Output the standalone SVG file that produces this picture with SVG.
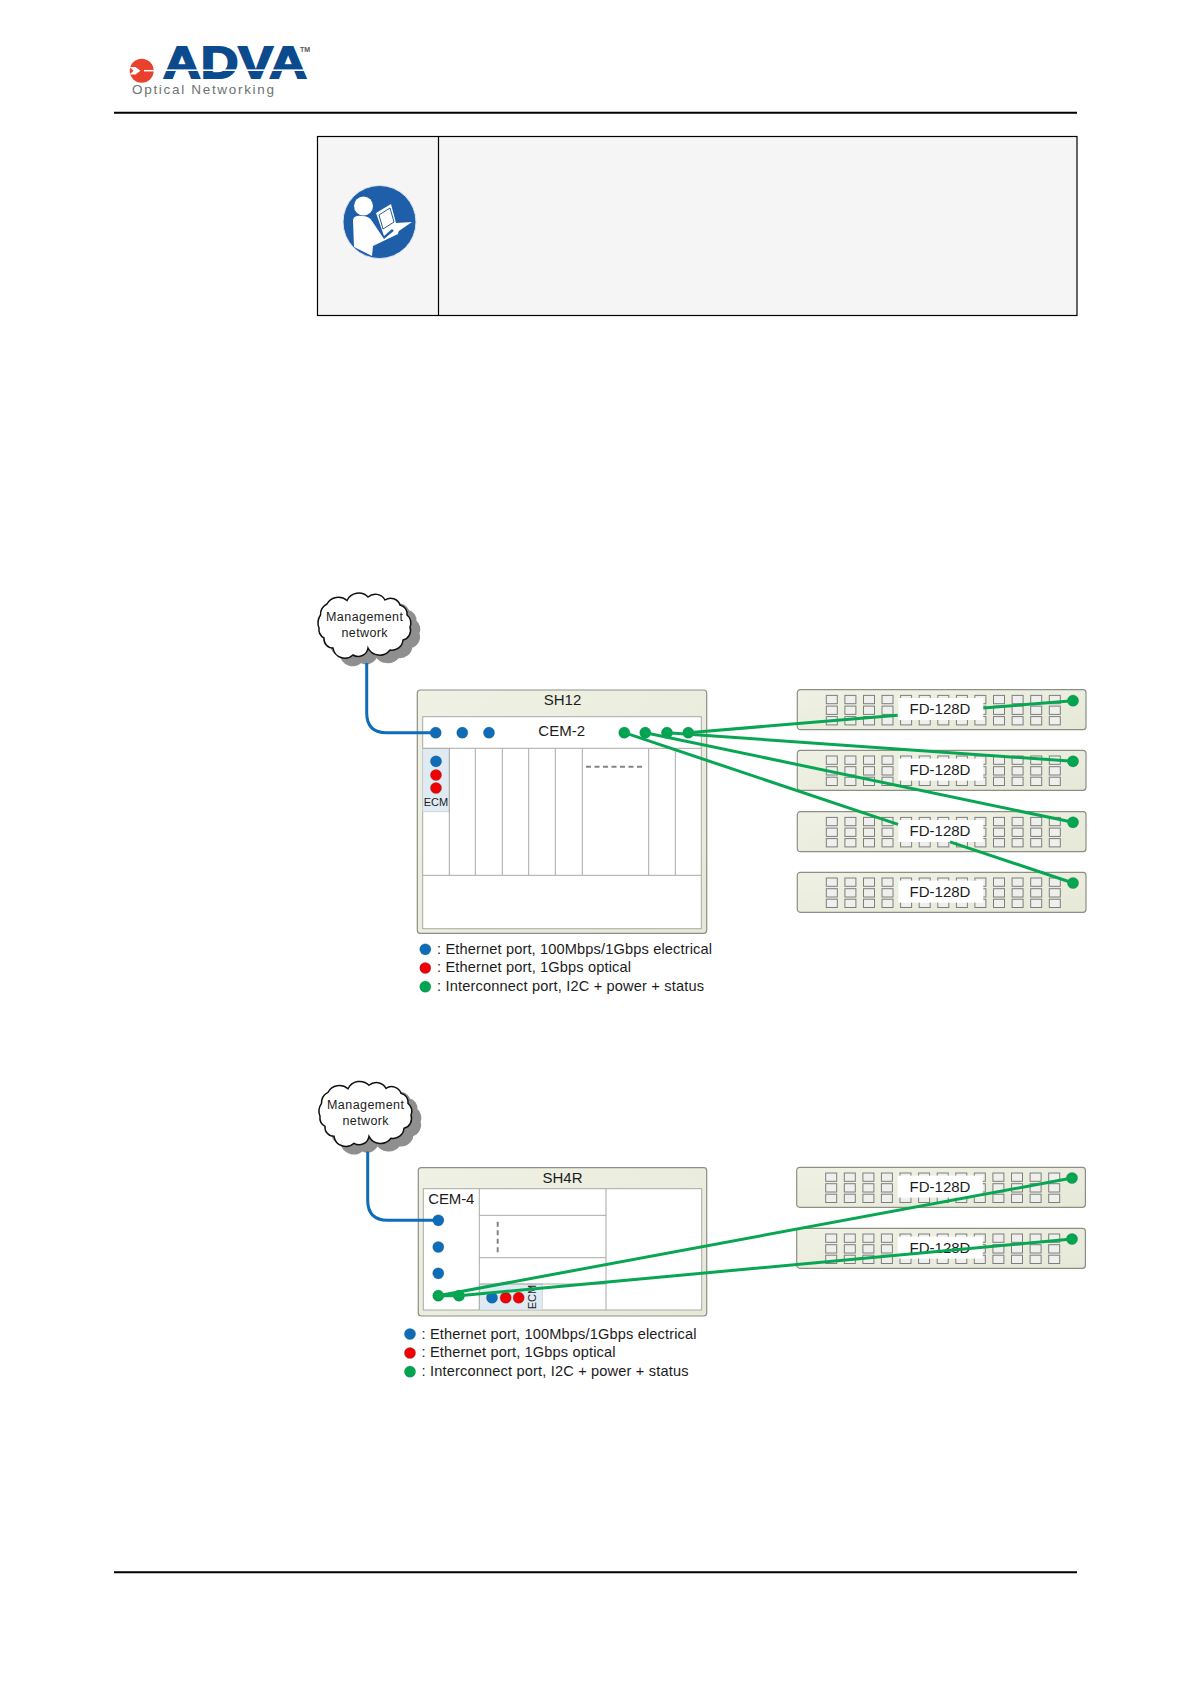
<svg xmlns="http://www.w3.org/2000/svg" xmlns:xlink="http://www.w3.org/1999/xlink" width="1191" height="1684" viewBox="0 0 1191 1684">
<style>
text{font-family:"Liberation Sans",Arial,sans-serif;fill:#1c1c1c}
.t15{font-size:15px;text-anchor:middle}
.leg{font-size:14.6px}
.cl{font-size:12.5px;text-anchor:middle}
.ecm{font-size:11px;text-anchor:middle}
.chassis{fill:url(#cg);stroke:#8d8f85;stroke-width:1.2}
.inner{fill:#fff;stroke:#a9a9a5;stroke-width:1}
.sep{stroke:#a8a8a4;stroke-width:1;fill:none}
.dash{stroke:#858585;stroke-width:2;stroke-dasharray:5 3.5;fill:none}
.ecmbox{fill:#dfeaf2;stroke:#c5d0d6;stroke-width:.8}
.b{fill:#0f6cb8}.r{fill:#f00000}.g{fill:#00a550}
.blue{stroke:#0f6cb8;stroke-width:3;fill:none}
.green{stroke:#08a653;stroke-width:3;fill:none}
.port{fill:#eff0ee;stroke:#7e7e7c;stroke-width:1}
.rule{stroke:#000;stroke-width:2}
circle.b,circle.r,circle.g{stroke-width:.6;stroke:#2a5a50;stroke-opacity:.45}
</style>
<defs>
<linearGradient id="cg" x1="0" y1="0" x2="1" y2="1"><stop offset="0" stop-color="#eff1e4"/><stop offset="1" stop-color="#e6e9d8"/></linearGradient>
<path id="cloudshape" d="M320.5 615A12 12 0 0 1 327 604A13 13 0 0 1 347 600.5A13 13 0 0 1 368 597A11 11 0 0 1 385 600A10 10 0 0 1 400 605A9 9 0 0 1 407 615A10 10 0 0 1 410 627A10 10 0 0 1 403 640A11 11 0 0 1 390 650A13 13 0 0 1 368 648A10 10 0 0 1 353 655A12 12 0 0 1 333 648A9 9 0 0 1 324 638A10 10 0 0 1 319 628A14 14 0 0 1 320.5 615Z"/>
<g id="cloud">
<use xlink:href="#cloudshape" href="#cloudshape" x="8" y="6.5" fill="#8f8f8f" stroke="#8f8f8f" stroke-width="3"/>
<use xlink:href="#cloudshape" href="#cloudshape" fill="#fff" stroke="#111" stroke-width="1.5"/>
</g>
<g id="pcol">
<rect class="port" x="0" y="0" width="11" height="8.3"/>
<rect class="port" x="0" y="10.7" width="11" height="8.3"/>
<rect class="port" x="0" y="21.2" width="11" height="8.3"/>
</g>
<g id="rack">
<rect class="chassis" x="0" y="0" width="288.7" height="40" rx="3"/>
<use xlink:href="#pcol" href="#pcol" x="29" y="5.7"/>
<use xlink:href="#pcol" href="#pcol" x="47.6" y="5.7"/>
<use xlink:href="#pcol" href="#pcol" x="66.2" y="5.7"/>
<use xlink:href="#pcol" href="#pcol" x="84.7" y="5.7"/>
<use xlink:href="#pcol" href="#pcol" x="103.3" y="5.7"/>
<use xlink:href="#pcol" href="#pcol" x="121.9" y="5.7"/>
<use xlink:href="#pcol" href="#pcol" x="140.5" y="5.7"/>
<use xlink:href="#pcol" href="#pcol" x="159.1" y="5.7"/>
<use xlink:href="#pcol" href="#pcol" x="177.6" y="5.7"/>
<use xlink:href="#pcol" href="#pcol" x="196.2" y="5.7"/>
<use xlink:href="#pcol" href="#pcol" x="214.8" y="5.7"/>
<use xlink:href="#pcol" href="#pcol" x="233.4" y="5.7"/>
<use xlink:href="#pcol" href="#pcol" x="252" y="5.7"/>
<rect x="101" y="8.3" width="85" height="22" fill="#fff"/>
</g>
</defs>
<rect width="1191" height="1684" fill="#fff"/>

<g id="logo">
<circle cx="141.7" cy="70.7" r="12" fill="#e8412e"/>
<path d="M129.5 67h6l5 3.700l-5 3.700h-6l4-3.700z" fill="#fff"/>
<path d="M144 70.700h10" stroke="#fff" stroke-width="1.500"/>
<text x="163" y="78" font-size="43.500" font-weight="700" textLength="144" lengthAdjust="spacingAndGlyphs" stroke="#0c4a8e" stroke-width="1.800" style="fill:#0c4a8e">ADVA</text>
<rect x="160" y="69.400" width="150" height="1.600" fill="#fff"/>
<text x="300" y="52" font-size="7" font-weight="700" style="fill:#555">TM</text>
<text x="132" y="94" font-size="13.500" textLength="142" style="fill:#6d7273">Optical Networking</text>
</g>
<line id="header-rule" class="rule" x1="114" y1="112.7" x2="1077" y2="112.7"/>

<g id="note">
<rect x="317.5" y="136.5" width="759.5" height="179" fill="#f5f5f5" stroke="#000" stroke-width="1.2"/>
<line x1="438.5" y1="136.5" x2="438.5" y2="315.5" stroke="#000" stroke-width="1.2"/>
<circle cx="379.5" cy="222" r="36.5" fill="#1f5ea8" stroke="#dbe4ee" stroke-width="1"/>
<circle cx="363.5" cy="206" r="9.5" fill="#fff"/>
<path d="M353 220Q354 215 362 216Q369 216 372 221L384 239L396 229Q400 227 398 234L373 246L372 256L354 247Z" fill="#fff"/>
<path d="M376 213L391 204L396 223L412 222L396 233L392 229L384 236Z" fill="#fff"/>
<path d="M379 215L390 208L394 222L383 229Z" fill="none" stroke="#1f5ea8" stroke-width="1"/>
</g>

<g id="cloud-1">
<use xlink:href="#cloud" href="#cloud"/>
<text class="cl" x="364.5" y="621" textLength="77">Management</text>
<text class="cl" x="364.5" y="636.5" textLength="46">network</text>
</g>

<g id="sh12">
<rect class="chassis" x="417.3" y="690" width="289.4" height="243.3" rx="3"/>
<rect class="inner" x="422.7" y="716.7" width="278.6" height="212"/>
<rect class="ecmbox" x="422.7" y="748.3" width="26.6" height="63.4"/>
<path class="sep" d="M422.7 748.3H701.3M422.7 875.3H701.3M449.3 748.3V875.3M475.3 748.3V875.3M502.3 748.3V875.3M528.7 748.3V875.3M555.3 748.3V875.3M582.3 748.3V875.3M648.7 748.3V875.3M675.3 748.3V875.3"/>
<line class="dash" x1="586" y1="766.7" x2="645" y2="766.7"/>
<text class="t15" x="562.5" y="705">SH12</text>
<text class="t15" x="561.7" y="736">CEM-2</text>
<text class="ecm" x="436" y="805.5">ECM</text>
<circle class="b" cx="435.7" cy="732.7" r="5.6"/><circle class="b" cx="462.3" cy="732.7" r="5.6"/><circle class="b" cx="489" cy="732.7" r="5.6"/>
<circle class="b" cx="436" cy="761.3" r="5.6"/><circle class="r" cx="436" cy="775" r="5.6"/><circle class="r" cx="436" cy="788" r="5.6"/>
<circle class="g" cx="624.3" cy="732.7" r="5.6"/><circle class="g" cx="645.3" cy="732.7" r="5.6"/><circle class="g" cx="667" cy="732.7" r="5.6"/><circle class="g" cx="688.3" cy="732.7" r="5.6"/>
</g>

<g id="legend-1">
<circle class="b" cx="425.3" cy="949.3" r="5.6"/><circle class="r" cx="425.3" cy="968" r="5.6"/><circle class="g" cx="425.3" cy="986.7" r="5.6"/>
<text class="leg" x="437" y="954" textLength="275">:  Ethernet port, 100Mbps/1Gbps electrical</text>
<text class="leg" x="437" y="972.3" textLength="194">:  Ethernet port, 1Gbps optical</text>
<text class="leg" x="437" y="991" textLength="267">:  Interconnect port, I2C + power + status</text>
</g>

<g id="fd-1"><use xlink:href="#rack" href="#rack" x="797.3" y="689.7"/><text class="t15" x="940" y="714">FD-128D</text><circle class="g" cx="1073" cy="700.7" r="5.6"/></g>
<g id="fd-2"><use xlink:href="#rack" href="#rack" x="797.3" y="750.3"/><text class="t15" x="940" y="775">FD-128D</text><circle class="g" cx="1073" cy="761.3" r="5.6"/></g>
<g id="fd-3"><use xlink:href="#rack" href="#rack" x="797.3" y="811.7"/><text class="t15" x="940" y="836">FD-128D</text><circle class="g" cx="1073" cy="822.3" r="5.6"/></g>
<g id="fd-4"><use xlink:href="#rack" href="#rack" x="797.3" y="872.3"/><text class="t15" x="940" y="897">FD-128D</text><circle class="g" cx="1073" cy="883" r="5.6"/></g>

<g id="cloud-2">
<use xlink:href="#cloud" href="#cloud" x="1" y="488.3"/>
<text class="cl" x="365.5" y="1109" textLength="77">Management</text>
<text class="cl" x="365.5" y="1125" textLength="46">network</text>
</g>

<g id="sh4r">
<rect class="chassis" x="418.3" y="1167.7" width="288.4" height="148.3" rx="3"/>
<rect class="inner" x="423.3" y="1188.7" width="278.4" height="121.3"/>
<rect class="ecmbox" x="479.3" y="1284" width="63" height="26"/>
<path class="sep" d="M479.3 1188.7V1310M606 1188.7V1310M479.3 1215.3H606M479.3 1257.7H606M479.3 1284H606"/>
<line class="dash" x1="497.7" y1="1221.7" x2="497.7" y2="1254"/>
<text class="t15" x="562.5" y="1182.7">SH4R</text>
<text class="t15" x="428.3" y="1204" style="text-anchor:start" textLength="46">CEM-4</text>
<text class="ecm" transform="translate(536 1297) rotate(-90)">ECM</text>
<circle class="b" cx="438.3" cy="1220.3" r="5.6"/><circle class="b" cx="438.3" cy="1247" r="5.6"/><circle class="b" cx="438.3" cy="1273.3" r="5.6"/>
<circle class="b" cx="492" cy="1297.7" r="5.6"/><circle class="r" cx="505.7" cy="1297.7" r="5.6"/><circle class="r" cx="518.7" cy="1297.7" r="5.6"/>
<circle class="g" cx="438.3" cy="1295.7" r="5.6"/><circle class="g" cx="459" cy="1295.7" r="5.6"/>
</g>

<g id="legend-2">
<circle class="b" cx="410" cy="1334" r="5.6"/><circle class="r" cx="410" cy="1353" r="5.6"/><circle class="g" cx="410" cy="1371.7" r="5.6"/>
<text class="leg" x="421.5" y="1338.7" textLength="275">:  Ethernet port, 100Mbps/1Gbps electrical</text>
<text class="leg" x="421.5" y="1357.3" textLength="194">:  Ethernet port, 1Gbps optical</text>
<text class="leg" x="421.5" y="1376" textLength="267">:  Interconnect port, I2C + power + status</text>
</g>

<g id="fd-5"><use xlink:href="#rack" href="#rack" x="796.7" y="1167.3"/><text class="t15" x="940" y="1191.7">FD-128D</text><circle class="g" cx="1072" cy="1178" r="5.6"/></g>
<g id="fd-6"><use xlink:href="#rack" href="#rack" x="796.7" y="1228.3"/><text class="t15" x="940" y="1252.7">FD-128D</text><circle class="g" cx="1072" cy="1239" r="5.6"/></g>

<g id="connectors">
<path class="blue" d="M366.7 663V712.7Q366.7 732.7 386.7 732.7H435.7"/>
<path class="blue" d="M367.7 1151.500V1200.300Q367.700 1220.300 387.700 1220.300H438.300"/>
<path class="green" d="M688.3 732.7L897.7 715.2M983.3 708L1073 700.7"/>
<path class="green" d="M667 732.7L1073 761.3"/>
<path class="green" d="M645.3 732.7L1073 822.3"/>
<path class="green" d="M624.3 732.7L898 824.4M950 841.8L1073 883"/>
<path class="green" d="M438.3 1295.7L1072 1178"/>
<path class="green" d="M438.3 1295.7L459 1295.7L1072 1239"/>
</g>
<line id="footer-rule" class="rule" x1="114" y1="1572.3" x2="1077" y2="1572.3"/>
</svg>
